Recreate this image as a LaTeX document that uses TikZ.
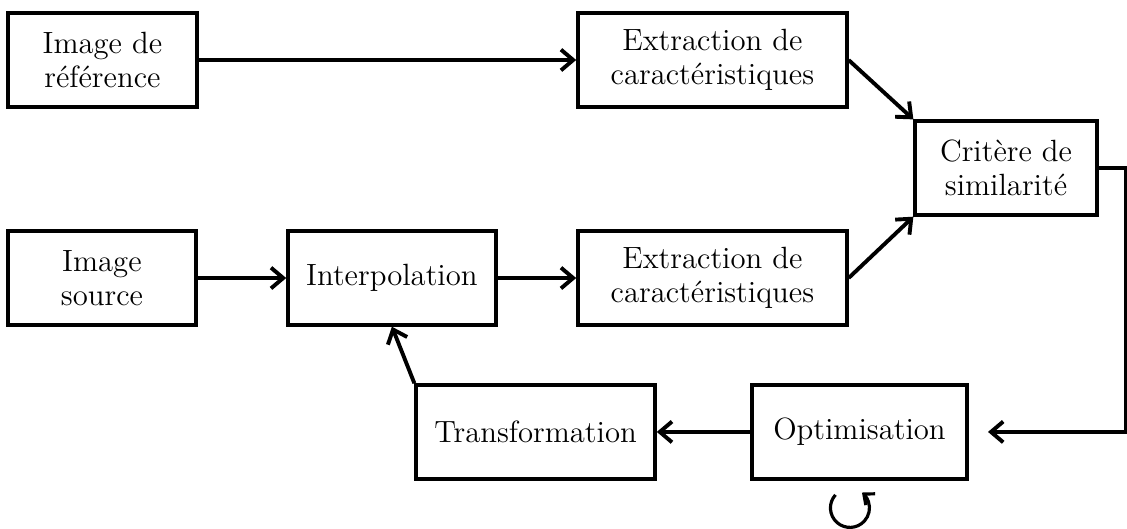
\documentclass[tikz,border=0pt]{standalone}
\usepackage{tikz}
\usetikzlibrary{arrows.meta,positioning,bending}
\definecolor{ink}{HTML}{000000}

\begin{document}
\begin{tikzpicture}[font=\fontsize{12.6}{14}\selectfont,
  blk/.style={draw=ink, line width=1.4pt, minimum height=38.5pt, inner sep=4pt, align=center},
  arr/.style={-{Straight Barb[length=5pt,width=8.5pt]}, ink, line width=1.6pt}]
  \useasboundingbox (0,0) rectangle (462.1pt,-216.5pt);
  % upper row
  \node[blk, minimum width=77.5pt] (ref) at (42pt,-24.6pt) {Image de\\référence};
  \node[blk, minimum width=110.3pt] (ext1) at (292.1pt,-24.6pt) {Extraction de\\caractéristiques};
  \node[blk, minimum width=74.6pt] (crit) at (412.5pt,-68.9pt) {Critère de\\similarité};
  % lower row
  \node[blk, minimum width=77.1pt] (src) at (41.8pt,-114pt) {Image\\source};
  \node[blk, minimum width=85.3pt] (interp) at (160.7pt,-114pt) {Interpolation};
  \node[blk, minimum width=110.3pt] (ext2) at (292.1pt,-114pt) {Extraction de\\caractéristiques};
  \node[blk, minimum width=98pt] (trans) at (219.6pt,-177.1pt) {Transformation};
  \node[blk, minimum width=88.2pt] (optim) at (352.4pt,-177.1pt) {Optimisation};
  \coordinate (fbend) at (405.1pt,-177.1pt);

  \draw[arr] (ref) -- (ext1);
  \draw[arr] (ext1.east) -- (crit.north west);
  \draw[arr] (src) -- (interp);
  \draw[arr] (interp) -- (ext2);
  \draw[arr] (ext2.east) -- (crit.south west);
  \draw[arr] (crit.east) -- ++(11.2pt,0) |- (fbend);
  \draw[arr] (optim) -- (trans);
  \draw[arr] (trans.north west) -- (interp.south);
  % iteration loop
  \draw[-{Straight Barb[length=3.5pt,width=6pt,flex]}, ink, line width=1.3pt]
    ([shift={(-3.9pt,-11.2pt)}]optim.south) ++(138:8pt)
    arc[start angle=138, end angle=412, radius=8pt];
\end{tikzpicture}
\end{document}
